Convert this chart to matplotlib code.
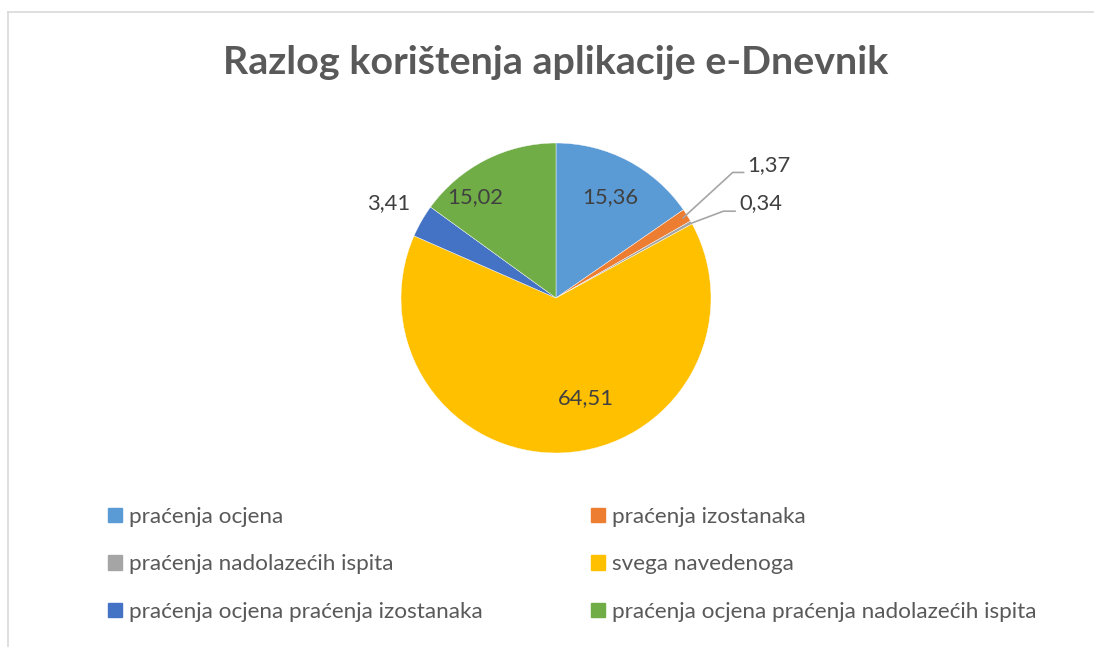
import matplotlib
matplotlib.use('Agg')
import matplotlib.pyplot as plt
import numpy as np

categories = ['praćenja ocjena', 'praćenja izostanaka', 'praćenja nadolazećih ispita',
              'svega navedenoga', 'praćenja ocjena praćenja izostanaka',
              'praćenja ocjena praćenja nadolazećih ispita']
values = [15.36, 1.37, 0.34, 64.51, 3.41, 15.02]
colors = ['#5B9BD5', '#ED7D31', '#A5A5A5', '#FFC000', '#4472C4', '#70AD47']
value_labels = [f"{v:.2f}".replace('.', ',') for v in values]

plt.rcParams['font.family'] = ['Lato', 'DejaVu Sans']
text_col = '#595959'

W, H = 1094, 647
fig = plt.figure(figsize=(W / 100, H / 100), dpi=100)

# chart frame (only left and top edges are visible in the crop)
fig.add_artist(plt.Line2D([8 / W, 8 / W], [0, 1 - 12 / H], color='#d9d9d9', lw=1.2))
fig.add_artist(plt.Line2D([8 / W, 1], [1 - 12 / H, 1 - 12 / H], color='#d9d9d9', lw=1.2))

fig.text(556 / W, 1 - 62 / H, 'Razlog korištenja aplikacije e-Dnevnik', ha='center', va='center',
         fontsize=28.4, fontweight='bold', color=text_col)

# pie: centre (556, 298) px, radius 155 px
r = 155
cx, cy = 556, 298
ax = fig.add_axes([(cx - 350) / W, (H - cy - 200) / H, 700 / W, 400 / H])
wedges, _ = ax.pie(values, colors=colors, startangle=90, counterclock=False,
                   wedgeprops=dict(edgecolor='white', linewidth=0.3))
ax.set_xlim(-350 / r, 350 / r)
ax.set_ylim(-200 / r, 200 / r)
ax.set_aspect('equal')
ax.axis('off')

# data label positions (in radius units), Excel "best fit" style
label_pos = [(0.35, 0.65), None, None, (0.19, -0.645), (-1.08, 0.61), (-0.52, 0.65)]
for i, pos in enumerate(label_pos):
    if pos is None:
        continue
    ax.text(pos[0], pos[1], value_labels[i], ha='center', va='center', fontsize=15.8, color='#404040')

# leader lines for the two small slices
callouts = {1: ((1.14, 0.81), (1.21, 0.81), (1.235, 0.86)),
            2: ((1.08, 0.56), (1.155, 0.56), (1.18, 0.61))}
ang0 = 90
for i, v in enumerate(values):
    mid = np.deg2rad(ang0 - v * 3.6 / 2)
    ang0 -= v * 3.6
    if i in callouts:
        elbow, end, tpos = callouts[i]
        sx, sy = 0.97 * np.cos(mid), 0.97 * np.sin(mid)
        ax.plot([sx, elbow[0], end[0]], [sy, elbow[1], end[1]], color='#a6a6a6', lw=1.2)
        ax.text(tpos[0], tpos[1], value_labels[i], ha='left', va='center', fontsize=15.8, color='#404040')

# legend in two columns
col1 = [0, 2, 4]
col2 = [1, 3, 5]
for idx, x0 in ((col1, 108), (col2, 591)):
    handles = [plt.Rectangle((0, 0), 1, 1, color=colors[i]) for i in idx]
    fig.legend(handles, [categories[i] for i in idx], loc='upper left',
               bbox_to_anchor=(x0 / W, 1 - 507 / H), frameon=False, fontsize=16.2,
               labelcolor=text_col, handlelength=0.62, handleheight=0.62, handletextpad=0.3,
               labelspacing=1.22, borderpad=0, borderaxespad=0)

fig.savefig('out.png', dpi=100)
